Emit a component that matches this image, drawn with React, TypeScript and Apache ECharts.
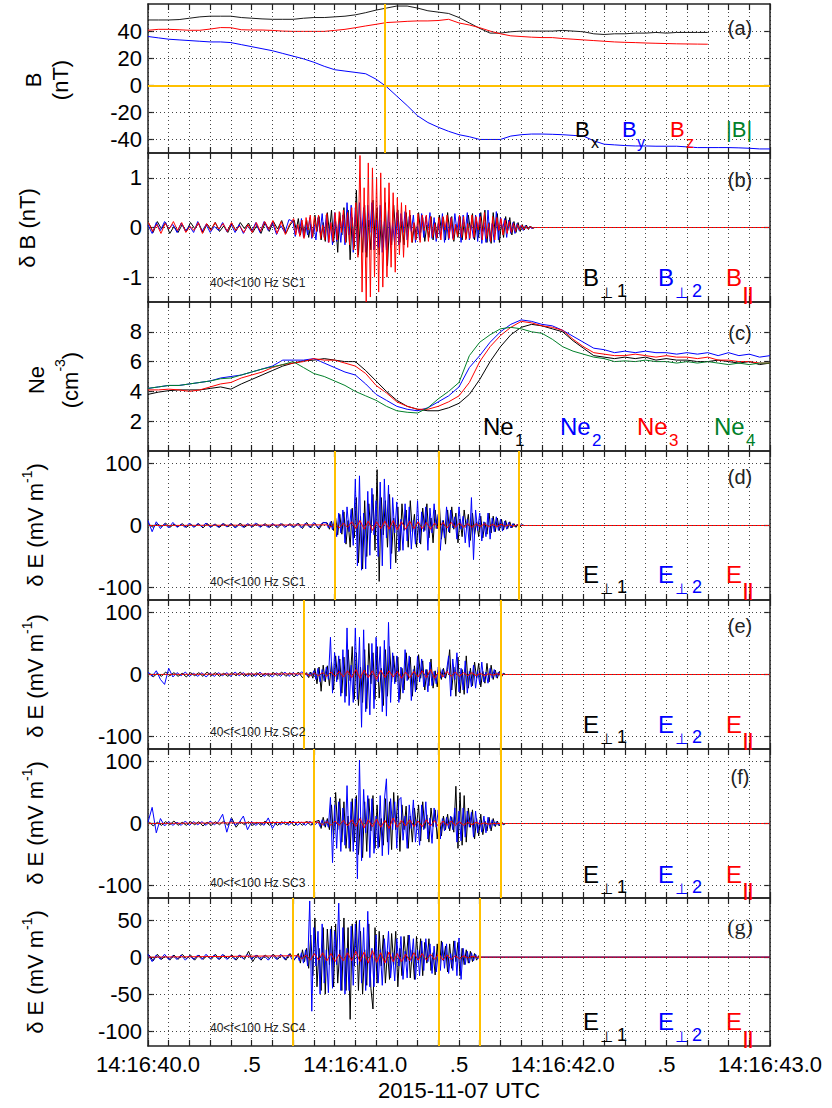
import React, { useEffect, useRef } from "react";
import * as echarts from "echarts";

const FONT = "'Liberation Sans', Arial, Helvetica, sans-serif";
const SYM_FONT = "'DejaVu Sans', 'Liberation Sans', sans-serif";

// ---------- time axis (seconds after 14:16:40.0 UTC) ----------
const xTickText: Record<number, string> = {
  0: "14:16:40.0", 5: ".5", 10: "14:16:41.0", 15: ".5", 20: "14:16:42.0", 25: ".5", 30: "14:16:43.0",
};
const xTitle = "2015-11-07 UTC";

// ---------- (a) B components, step 0.05 s ----------
const B_STEP = 0.05;
const Bx = [48.2, 48.2, 48.2, 48.5, 49.5, 50.5, 51, 51, 51, 50, 49.5, 49, 48.7, 48.7, 48.7, 49.5, 50, 50, 50.5, 51, 52, 53.6, 55.5, 57, 58.5, 58.5, 57, 55, 54, 53, 50, 46, 42, 38.5, 38.5, 39.5, 40, 40, 40, 40, 40.5, 40, 39.5, 38, 37.5, 38, 38, 38.5, 38.5, 39, 38.5, 39, 39, 39, 39];
const By = [36, 35, 34, 33.5, 33, 32.5, 32, 32, 31.5, 30, 28.5, 27, 25.5, 23.5, 21.5, 19.5, 17, 14, 11.5, 10.5, 9.5, 8.5, 4.5, -1, -8, -15, -22.5, -27.5, -31, -34, -36.5, -38, -40, -40, -40, -37.5, -36.5, -36, -36, -36.2, -36.5, -37, -37.5, -41, -43.5, -44, -44.5, -44.8, -44.8, -45, -45, -45, -45.5, -46, -46, -46, -46, -46.2, -46.5, -47, -47];
const Bz = [40.6, 41.3, 41.3, 41, 40.6, 40.6, 41.5, 42.6, 42.5, 41, 40.8, 40.8, 40.5, 40, 39.8, 39.8, 39.8, 39.8, 40.5, 41.3, 42.5, 43.8, 45, 46.3, 46.7, 47.2, 47.5, 47.5, 47.8, 48.7, 46, 44.5, 42.5, 40, 38, 36.5, 36, 35.5, 35.2, 35.2, 34.5, 34, 33.5, 33, 32.5, 32, 31.7, 31.5, 31.2, 31, 30.8, 30.6, 30.5, 30.4, 30.3];

// ---------- (b) delta B, SC1 ----------
const dB_PRE_STEP = 0.02;
const dB_ACT_START = 0.7;
const dB_ACT_STEP = 0.01;
// sampling phase offsets of the three components (s)
const PHASE_PERP1 = 0.005, PHASE_PERP2 = 0, PHASE_PAR = 0.0025;
const dBperp1Pre = [0.08, -0.1, 0.12, -0.03, 0.1, -0.12, 0.02, -0.1, 0.06, -0.08, 0.1, -0.02, 0.08, -0.1, 0.07, -0.04, 0.1, -0.08, 0.03, -0.1, 0.08, -0.07, 0.1, -0.02, 0.09, -0.1, 0.04, -0.12, 0.1, -0.08, 0.12, -0.03, 0.14, -0.12, 0.05, -0.14];
const dBperp2Pre = [0.05, -0.12, 0.1, -0.06, 0.12, -0.02, 0.06, -0.1, 0.09, -0.07, 0.03, -0.1, 0.12, -0.08, 0.06, -0.1, 0.02, -0.06, 0.1, -0.08, 0.07, -0.1, 0.06, -0.12, 0.03, -0.08, 0.1, -0.1, 0.12, -0.06, 0.1, -0.14, 0.04, -0.1, 0.16, -0.12];
const dBparPre = [0.1, -0.08, 0.06, -0.12, 0.08, -0.03, 0.12, -0.06, 0.1, -0.1, 0.02, -0.06, 0.1, -0.12, 0.08, -0.06, 0.1, -0.03, 0.08, -0.08, 0.1, -0.06, 0.03, -0.1, 0.06, -0.1, 0.1, -0.08, 0.12, -0.04, 0.14, -0.12, 0.12, -0.14, 0.06, -0.18];
const dBperp1 = [0.15, -0.05, 0.18, -0.15, 0.08, -0.18, 0.15, -0.2, 0.06, -0.18, 0.25, -0.08, 0.22, -0.25, 0.1, -0.28,
  0.3, -0.1, 0.35, -0.3, 0.12, -0.5, 0.3, -0.15, 0.4, -0.3,
  0.35, -0.65, 0.2, -0.4, 0.75,
  -0.55, 0.2, -0.5, 0.45, -0.6, 0.15, -0.45, 0.55,
  -0.2, 0.4, -0.55, 0.15, -0.4, 0.5, -0.77, 0.1, -0.35, 0.45, -0.12,
  0.35, -0.3, 0.12, -0.35, 0.3, -0.1,
  0.25, -0.3, 0.08, -0.22, 0.3, -0.1, 0.2, -0.28, 0.05, -0.2, 0.22, -0.25, 0.1, -0.2, 0.25, -0.06, 0.2, -0.25, 0.3, -0.08, 0.22, -0.28, 0.06, -0.2, 0.22, -0.25, 0.1, -0.22, 0.25, -0.05, 0.28, -0.25, 0.12, -0.2,
  0.3, -0.08, 0.35, -0.3, 0.1, -0.32, 0.3, -0.12, 0.28, -0.3, 0.08, -0.2, 0.22, -0.06, 0.2, -0.15,
  0.12, -0.1, 0.1, -0.08, 0.06, -0.05, 0.05, -0.04, 0.03, -0.02, 0];
const dBperp2 = [0.12, -0.18, 0.05, -0.12, 0.18, -0.2, 0.08, -0.15, 0.2, -0.22, 0.06, -0.25, 0.2, -0.1, 0.28, -0.2,
  0.25, -0.3, 0.1, -0.35, 0.3, -0.28, 0.12, -0.3, 0.25, -0.35,
  0.5, -0.15, 0.45, -0.5, 0.4,
  -0.45, 0.5, -0.2, 0.4, -0.5, 0.45, -0.1, 0.5,
  -0.45, 0.15, -0.4, 0.45, -0.5, 0.12, -0.45, 0.35, -0.4, 0.1, -0.35,
  0.3, -0.35, 0.28, -0.1, 0.32, -0.25,
  0.22, -0.08, 0.25, -0.3, 0.06, -0.25, 0.28, -0.2, 0.22, -0.05, 0.3, -0.22, 0.2, -0.28, 0.08, -0.2, 0.28, -0.3, 0.1, -0.25, 0.2, -0.22, 0.28, -0.06, 0.22, -0.3, 0.25, -0.1, 0.3, -0.25, 0.05, -0.22, 0.25, -0.28,
  0.28, -0.32, 0.1, -0.3, 0.35, -0.28, 0.08, -0.3, 0.32, -0.25, 0.2, -0.05, 0.18, -0.2, 0.15, -0.12,
  0.1, -0.12, 0.08, -0.06, 0.05, -0.06, 0.04, -0.03, 0.02, -0.02, 0];
const dBpar = [0.18, -0.15, 0.06, -0.18, 0.15, -0.22, 0.2, -0.05, 0.25, -0.2, 0.22, -0.08, 0.25, -0.22, 0.05, -0.25,
  0.28, -0.3, 0.1, -0.28, 0.3, -0.25, 0.32, -0.1, 0.35, -0.3,
  0.3, -0.35, 0.4, -0.45, 0.5,
  -0.6, 1.45, -1.3, 0.8, -1.5, 1.3, -1.4, 1.2,
  -1.0, 1.0, -1.3, 1.1, -1.2, 0.8, -1.0, 0.9, -0.8, 0.7, -0.9,
  0.6, -0.55, 0.5, -0.6, 0.45, -0.4,
  0.35, -0.3, 0.1, -0.25, 0.28, -0.3, 0.25, -0.06, 0.25, -0.28, 0.22, -0.2, 0.08, -0.22, 0.2, -0.25, 0.22, -0.05, 0.25, -0.22, 0.2, -0.25, 0.06, -0.18, 0.25, -0.2, 0.22, -0.25, 0.08, -0.22, 0.25, -0.2, 0.22, -0.05,
  0.22, -0.25, 0.3, -0.22, 0.08, -0.28, 0.22, -0.25, 0.2, -0.06, 0.18, -0.15, 0.15, -0.12, 0.12, -0.1,
  0.08, -0.08, 0.06, -0.05, 0.05, -0.04, 0.03, -0.03, 0.02, -0.01, 0];

// ---------- (c) electron density, step 0.05 s ----------
const NE_STEP = 0.05;
const Ne1 = [3.8, 3.95, 4.05, 4.1, 4.1, 4.1, 4.2, 4.3, 4.15, 4.5, 4.8, 5.1, 5.4, 5.7, 5.9, 6.05, 6.1, 6.2, 6.1, 6.0, 6.0, 5.4, 4.7, 4.0, 3.4, 3.0, 2.8, 2.7, 2.7, 2.9, 3.2, 3.8, 4.8, 6.0, 7.0, 7.8, 8.3, 8.5, 8.4, 8.2, 8.0, 7.4, 6.9, 6.4, 6.3, 6.2, 6.3, 6.2, 6.3, 6.1, 6.2, 6.1, 6.1, 6.0, 6.0, 6.1, 6.0, 5.9, 6.0, 5.8, 5.9];
const Ne2 = [4.2, 4.3, 4.4, 4.4, 4.5, 4.6, 4.7, 4.9, 5.0, 5.1, 5.3, 5.5, 5.7, 6.1, 6.1, 6.1, 6.2, 5.9, 5.6, 5.3, 5.1, 4.5, 3.8, 3.4, 3.0, 2.8, 2.7, 2.9, 3.3, 3.7, 4.3, 5.6, 6.4, 7.3, 8.0, 8.5, 8.8, 8.7, 8.5, 8.4, 8.1, 7.7, 7.3, 6.9, 6.8, 6.6, 6.7, 6.6, 6.7, 6.6, 6.6, 6.5, 6.6, 6.5, 6.6, 6.4, 6.6, 6.4, 6.5, 6.3, 6.4];
const Ne3 = [4.1, 4.1, 4.15, 4.1, 4.0, 4.1, 4.3, 4.5, 4.6, 4.9, 5.1, 5.3, 5.6, 5.8, 5.9, 6.0, 6.2, 6.1, 6.1, 5.9, 5.7, 5.2, 4.4, 3.9, 3.3, 3.0, 2.8, 2.8, 3.0, 3.3, 3.7, 4.6, 6.0, 7.0, 7.75, 8.3, 8.7, 8.6, 8.4, 8.3, 8.1, 7.5, 7.0, 6.6, 6.5, 6.4, 6.4, 6.5, 6.4, 6.3, 6.4, 6.3, 6.3, 6.2, 6.3, 6.1, 6.1, 6.0, 6.0, 5.9, 5.9];
const Ne4 = [4.2, 4.3, 4.4, 4.4, 4.5, 4.6, 4.7, 4.85, 4.9, 5.1, 5.3, 5.5, 5.65, 5.8, 6.0, 5.6, 5.2, 5.0, 4.7, 4.4, 4.0, 3.7, 3.4, 3.0, 2.7, 2.6, 2.55, 2.9, 3.5, 4.0, 4.6, 6.4, 7.3, 7.8, 8.2, 8.3, 8.2, 8.0, 7.9, 7.5, 7.0, 6.7, 6.5, 6.3, 6.2, 6.0, 6.05, 6.0, 6.1, 6.0, 6.0, 5.9, 6.0, 5.9, 6.0, 5.9, 5.8, 5.9, 5.8, 5.9, 5.9];

// ---------- (d)-(g) delta E ----------
const E_PRE_STEP = 0.02;
const E_ACT_STEP = 0.01;
const E_RED_STEP = 0.02;

// SC1 (d)
const dE1_START = 0.86;
const dE1perp1Pre = [2, -3, 3, -2, 4, -3, 2, -2, 3, -3, 2, -2, 3, -4, 3, -2, 2, -3, 3, -2, 2, -3, 4, -3, 2, -2, 3, -2, 3, -3, 2, -4, 3, -2, 3, -3, 4, -5, 5, -4, 4, -6, 5];
const dE1perp2Pre = [8, -10, 6, -5, 3, -4, 5, -3, 2, -3, 4, -3, 3, -2, 4, -3, 2, -3, 3, -2, 3, -4, 2, -3, 3, -2, 4, -3, 2, -3, 3, -2, 3, -3, 2, -3, 3, -4, 4, -3, 5, -4, 4];
const dE1perp1 = [4, -6, 7, -8, 12, -15, 18, -14, 22, -30, 8, -35, 28, -20, 45, -60, 15, -70, 40, -50, 35, -12, 50, -40, 90, -90, 45, -15, 40, -35, 50, -45, 12, -60, 30, -40, 35, -8, 25, -35, 40, -10, 18, -35, 6, -30, 28, -8, 35, -20, 12, -28, 25, -5, 35, -22, 8, -30, 25, -12, 30, -6, 20, -28, 10, -18, 25, -4, 18, -24, 20, -15, 6, -18, 15, -20, 5, -14, 20, -12, 15, -10, 12, -8, 10, -7, 8, -5, 6, -4, 3, -3, 2, -2, 1, 0];
const dE1perp2 = [5, -4, 6, -7, 10, -18, 20, -12, 25, -28, 30, -10, 26, -32, 75, -65, 80, -72, 20, -70, 55, -48, 60, -15, 40, -50, 70, -65, 75, -20, 65, -70, 45, -12, 38, -42, 10, -40, 35, -25, 30, -38, 8, -30, 40, -28, 22, -10, 30, -40, 28, -12, 35, -5, 18, -40, 8, -20, 30, -10, 25, -4, 14, -22, 30, -6, 15, -28, 10, -35, 45, -55, 25, -8, 20, -25, 6, -18, 20, -22, 12, -10, 14, -8, 10, -9, 7, -6, 5, -4, 3, -2, 2, -1, 1, 0];
const dE1par = [1, -2, 3, -4, 4, -3, 6, -5, 8, -6, 7, -8, 6, -5, 7, -6, 8, -7, 6, -6, 7, -5, 6, -5, 5, -6, 4, -5, 5, -4, 5, -3, 4, -3, 3, -3, 3, -2, 3, -2, 2, -2, 2, -1, 1, -1, 1, 0];

// SC2 (e)
const dE2_START = 0.76;
const dE2perp1Pre = [3, -4, 2, -3, 4, -2, 3, -3, 2, -4, 3, -2, 3, -3, 4, -2, 3, -3, 2, -3, 3, -2, 4, -3, 2, -3, 3, -4, 2, -3, 3, -2, 4, -3, 3, -4, 4, -5];
const dE2perp2Pre = [4, -3, 6, -8, -16, 10, -4, 3, -2, 4, -3, 2, -3, 3, -4, 2, -3, 3, -2, 3, -3, 4, -2, 3, -3, 2, -3, 4, -3, 2, -4, 3, -3, 4, -3, 3, -2, 4];
const dE2perp1 = [3, -5, 4, -6, 10, -15, 12, -27, 15, -12, 14, -18, 20, -25, 30, -8, 25, -30, 28, -35, 40, -10, 45, -40, 35, -50, 12, -45, 40, -55, 50, -15, 35, -40, 45, -38, 10, -50, 40, -35, 45, -12, 30, -12, 28, -40, 10, -25, 35, -8, 28, -35, 14, -25, 32, -6, 22, -25, 8, -18, 25, -22, 6, -20, 15, -8, 10, -6, 8, 40, -25, 12, -35, 28, -30, 8, -32, 30, -22, 10, -18, 20, -6, 18, -20, 5, -14, 18, -12, 15, -8, 7, -6, 5, -4, 2, 0];
const dE2perp2 = [2, -3, 3, -2, 6, -8, 10, -12, 8, -10, 12, -8, 60, -30, 35, -12, 30, -35, 40, -45, 75, -50, 15, -45, 75, -40, 60, -85, 72, -60, 15, -65, 50, -55, 60, -12, 45, -60, 55, -67, 84, -45, 35, -15, 30, -45, 12, -30, 40, -10, 30, -42, 8, -28, 30, -12, 25, -20, 8, -28, 20, -18, 5, -15, 12, -6, 8, -5, 6, 30, -35, 25, -8, 35, -28, 10, -25, 22, -30, 5, -20, 15, -22, 6, -15, 20, -12, 4, -14, 10, -6, 8, -5, 4, -3, 1, 0];
const dE2par = [1, -2, 2, -2, 3, -3, 4, -3, 5, -4, 6, -5, 8, -6, 7, -5, 6, -8, 7, -5, 6, -4, 5, -6, 4, -5, 5, -4, 6, -5, 8, -6, 5, -4, 5, -3, 4, -3, 3, -2, 3, -2, 2, -2, 1, -1, 1, 0, 0];

// SC3 (f)
const dE3_START = 0.82;
const dE3perp1Pre = [3, -4, 2, -3, 3, -2, 4, -3, 2, -3, 3, -2, 3, -4, 2, -3, 3, -2, 4, -3, 8, -6, 3, -2, 3, -3, 2, -3, 4, -3, 2, -3, 3, -2, 4, -4, 3, -3, 4, -3, 3];
const dE3perp2Pre = [2, 26, -15, 8, -4, 3, -3, 2, -3, 4, -3, 3, -2, 3, -3, 4, -2, 3, 15, -14, 8, -3, 2, 12, -10, 3, -3, 2, -3, 9, -8, 3, -2, 3, -3, 4, -3, 2, -3, 4, -4];
const dE3perp1 = [5, -8, 10, -6, 8, -10, 30, -25, 50, -10, 40, -30, 35, -40, 12, -45, 40, -30, 45, -50, 10, -55, 35, -45, 40, -12, 45, -40, 30, -38, 8, -35, 40, -30, 35, -42, 50, -10, 45, -45, 30, -10, 28, -40, 12, -30, 25, -6, 30, -28, 35, -8, 14, -30, 25, -5, 22, -25, 10, -20, 12, -10, 15, -12, 10, -14, 60, -40, 50, -35, 45, -30, 25, -6, 22, -25, 8, -20, 15, -18, 4, -12, 10, -12, 8, -5, 4, -4, 3, -2, 0];
const dE3perp2 = [3, -5, 6, -4, 5, -6, 42, -63, 30, -40, 35, -45, 25, -35, 61, -40, 35, -45, 40, -89, 102, -60, 55, -15, 45, -55, 40, -48, 12, -40, 45, -52, 38, 72, -50, 40, -10, 35, -40, 38, 42, -27, 12, -40, 30, -8, 38, -30, 6, -35, 30, -10, 35, -25, 9, -32, 25, -6, 22, -25, 8, -12, 10, -8, 12, -10, 25, -30, 20, -28, 25, -22, 20, -6, 18, -22, 20, -15, 5, -14, 12, -15, 10, -8, 6, -4, 3, -3, 2, -1, 0];
const dE3par = [2, -2, 3, -3, 4, -3, 5, -4, 6, -5, 8, -7, 6, -5, 7, -6, 5, -8, 9, -6, 5, -4, 6, -5, 4, -5, 6, -4, 5, -6, 4, -3, 4, -3, 3, -3, 2, -2, 2, -1, 1, -1, 0, 0, 0, 0];

// SC4 (g)
const dE4_START = 0.72;
const dE4perp1Pre = [3, -5, 4, -3, 2, -4, 3, -3, 4, -2, 3, -4, 3, -3, 2, -3, 4, -3, 3, -2, 3, -4, 3, -3, 8, -6, 3, -4, 3, -2, 4, -3, 3, -4, 5, -4];
const dE4perp2Pre = [4, -6, 3, -3, 4, -3, 2, -3, 3, -4, 2, -3, 3, -3, 4, -2, 3, -3, 4, -3, 2, -3, 3, -2, 4, -3, 3, -3, 2, -4, 3, -3, 4, -3, 4, -5];
const dE4perp1 = [5, -8, 10, -6, 12, -15, 30, -25, 53, -40, 12, -45, 40, -50, 38, -10, 42, -40, 45, -35, 10, -45, 53, -45, 40, -84, 45, -12, 50, -45, 35, -50, 10, -38, 45, -42, -70, 40, -35, 35, -12, 30, -35, 8, -30, 32, -10, 35, -40, 12, -25, 28, -6, 30, -28, 10, -30, 28, -8, 25, -25, 20, -8, 25, -18, 6, -24, 18, -20, 22, -5, 15, -20, 18, -15, 22, -6, 20, -25, 12, -10, 10, -8, 8, -6, 5, -4, 2, 0];
const dE4perp2 = [3, -5, 6, -8, 10, -12, 76, -73, 40, -12, 35, -50, 45, -35, 10, -48, 38, -42, 35, -10, 73, -45, 40, -50, 12, -45, 42, -38, 45, -10, 50, -35, 40, -45, 62, -40, 12, -40, 30, -35, 10, -38, 25, -8, 35, -28, 6, -32, 25, -12, 28, -30, 8, -28, 30, -6, 25, -30, 10, -25, 22, -18, 25, -6, 18, -22, 15, -20, 6, -18, 20, -15, 18, -22, 5, -18, 22, -25, 26, -30, 12, -10, 8, -8, 6, -5, 4, -2, 0];
const dE4par = [2, -2, 3, -4, 5, -4, 6, -5, 5, -6, 4, -5, 6, -5, 8, -6, 7, -8, 9, -7, 6, -8, 7, -6, 5, -6, 4, -5, 6, -4, 5, -4, 4, -3, 5, -4, 3, -3, 2, -2, 2, -1, 1, 0, 0];

// ---------- axis tick values ----------
const yTicksA = [-40, -20, 0, 20, 40];
const yTicksB = [-1, 0, 1];
const yTicksC = [2, 4, 6, 8];
const yTicksE = [-100, 0, 100];
const yTicksG = [-100, -50, 0, 50];

// ---------- reference times (yellow markers) ----------
const markA = [1.135];
const markD = [0.9, 1.4, 1.795];
const markE = [0.75, 1.4, 1.7];
const markF = [0.8, 1.4, 1.7];
const markG = [0.7, 1.4, 1.6];

// ---------- layout ----------
const LEFT = 148, RIGHT = 62;
const panels = [
  { top: 4, height: 149, min: -50, max: 60, interval: 10, ticks: yTicksA, marks: markA },
  { top: 153, height: 149, min: -1.5, max: 1.5, interval: 0.5, ticks: yTicksB, marks: [] as number[] },
  { top: 302, height: 149, min: 0, max: 10, interval: 2, ticks: yTicksC, marks: [] as number[] },
  { top: 451, height: 149, min: -120, max: 120, interval: 20, ticks: yTicksE, marks: markD },
  { top: 600, height: 149, min: -120, max: 120, interval: 20, ticks: yTicksE, marks: markE },
  { top: 749, height: 149, min: -120, max: 120, interval: 20, ticks: yTicksE, marks: markF },
  { top: 898, height: 148, min: -120, max: 80, interval: 10, ticks: yTicksG, marks: markG },
];

const BLACK = "#000000", BLUE = "#0000ff", RED = "#ff0000", GREEN = "#00802a", YEL = "#ffc000";

const seg = (t0: number, dt: number, vals: number[]) =>
  vals.map((v, i) => [Math.round((t0 + i * dt) * 10000) / 10000, v]);
const wave = (pre: number[], preStep: number, start: number, act: number[], actStep: number, phase: number) => [
  ...seg(phase, preStep, pre).filter((p) => p[0] < start + phase - 1e-6),
  ...seg(start + phase, actStep, act),
  [3, 0],
];

function buildOption() {
  const grid = panels.map((p) => ({ left: LEFT, right: RIGHT, top: p.top, height: p.height }));
  const axisLine = { show: true, onZero: false, lineStyle: { color: "#222", width: 1.5 } };
  const xTick = { show: true, inside: true, length: 6, lineStyle: { color: "#222", width: 1.2 } };
  const xAxis: any[] = [];
  const yAxis: any[] = [];
  panels.forEach((p, i) => {
    const last = i === panels.length - 1;
    xAxis.push({
      type: "value", gridIndex: i, min: 0, max: 3, interval: 0.1, position: "bottom",
      axisLine, axisTick: xTick,
      axisLabel: {
        show: last, fontSize: 22, color: "#000", fontFamily: FONT, margin: 7, hideOverlap: false,
        showMinLabel: true, showMaxLabel: true,
        formatter: (v: number) => xTickText[Math.round(v * 10)] ?? "",
      },
      splitLine: { show: true, lineStyle: { color: "#444", type: [1, 3], width: 1 } },
    });
    xAxis.push({
      type: "value", gridIndex: i, min: 0, max: 3, interval: 0.1, position: "top",
      axisLine, axisTick: xTick, axisLabel: { show: false }, splitLine: { show: false },
    });
    const yTick = { show: true, inside: true, length: 6, customValues: p.ticks, lineStyle: { color: "#222", width: 1.2 } };
    yAxis.push({
      type: "value", gridIndex: i, min: p.min, max: p.max, interval: p.interval, position: "left",
      axisLine, axisTick: yTick,
      axisLabel: {
        customValues: p.ticks, fontSize: 22, color: "#000", fontFamily: FONT, margin: 6, hideOverlap: false,
        formatter: (v: number) => (p.ticks.some((t) => Math.abs(t - v) < 1e-6) ? String(Math.round(v * 10) / 10) : ""),
      },
      splitLine: { show: false },
    });
    yAxis.push({
      type: "value", gridIndex: i, min: p.min, max: p.max, interval: p.interval, position: "right",
      axisLine, axisTick: yTick, axisLabel: { show: false }, splitLine: { show: false },
    });
  });

  const series: any[] = [];
  const line = (i: number, data: any[], color: string, z = 2) => ({
    type: "line", xAxisIndex: 2 * i, yAxisIndex: 2 * i, data, showSymbol: false, symbol: "none",
    lineStyle: { width: 1, color }, itemStyle: { color }, z, silent: true, animation: false, clip: true,
  });

  // grid lines (dotted, horizontal) underneath
  panels.forEach((p, i) => {
    series.push({
      ...line(i, [[0, p.min], [3, p.min]], "rgba(0,0,0,0)", 1),
      lineStyle: { opacity: 0 },
      markLine: {
        silent: true, symbol: ["none", "none"], label: { show: false }, animation: false,
        lineStyle: { color: "#444", type: [1, 3], width: 1 },
        data: p.ticks.map((t) => ({ yAxis: t })),
      },
    });
  });

  // (a)
  series.push(line(0, seg(0, B_STEP, Bx), "#1a1a1a"));
  series.push(line(0, seg(0, B_STEP, By), BLUE));
  series.push(line(0, seg(0, B_STEP, Bz), RED));
  // (b)
  series.push(line(1, wave(dBperp1Pre, dB_PRE_STEP, dB_ACT_START, dBperp1, dB_ACT_STEP, PHASE_PERP1), BLACK));
  series.push(line(1, wave(dBperp2Pre, dB_PRE_STEP, dB_ACT_START, dBperp2, dB_ACT_STEP, PHASE_PERP2), BLUE));
  series.push(line(1, wave(dBparPre, dB_PRE_STEP, dB_ACT_START, dBpar, dB_ACT_STEP, PHASE_PAR), RED));
  // (c)
  series.push(line(2, seg(0, NE_STEP, Ne1), BLACK));
  series.push(line(2, seg(0, NE_STEP, Ne2), BLUE));
  series.push(line(2, seg(0, NE_STEP, Ne3), RED));
  series.push(line(2, seg(0, NE_STEP, Ne4), GREEN));
  // (d)-(g)
  const eSets = [
    [dE1perp1Pre, dE1perp2Pre, dE1_START, dE1perp1, dE1perp2, dE1par],
    [dE2perp1Pre, dE2perp2Pre, dE2_START, dE2perp1, dE2perp2, dE2par],
    [dE3perp1Pre, dE3perp2Pre, dE3_START, dE3perp1, dE3perp2, dE3par],
    [dE4perp1Pre, dE4perp2Pre, dE4_START, dE4perp1, dE4perp2, dE4par],
  ] as any[];
  eSets.forEach((s, k) => {
    const i = 3 + k;
    series.push(line(i, wave(s[0], E_PRE_STEP, s[2], s[3], E_ACT_STEP, PHASE_PERP1), BLACK));
    series.push(line(i, wave(s[1], E_PRE_STEP, s[2], s[4], E_ACT_STEP, PHASE_PERP2), BLUE));
    series.push(line(i, wave([0], E_PRE_STEP, s[2], s[5], E_RED_STEP, PHASE_PAR), RED));
  });

  // yellow markers on top
  panels.forEach((p, i) => {
    const data: any[] = p.marks.map((t) => ({ xAxis: t }));
    if (i === 0) data.push({ yAxis: 0 });
    if (!data.length) return;
    series.push({
      ...line(i, [[0, p.min], [3, p.min]], "rgba(0,0,0,0)", 6),
      lineStyle: { opacity: 0 },
      markLine: {
        silent: true, symbol: ["none", "none"], label: { show: false }, animation: false,
        lineStyle: { color: YEL, type: "solid", width: 2 },
        data,
      },
    });
  });

  // ---------- texts ----------
  const g: any[] = [];
  const txt = (x: number, y: number, text: string, size: number, fill: string, extra: any = {}) => ({
    type: "text", x, y, silent: true, z: 100,
    style: { text, fontSize: size, fontFamily: FONT, fill, align: "left", verticalAlign: "middle", ...extra },
  });
  const vtxt = (x: number, y: number, text: string, lineHeight: number, rich?: any) => ({
    type: "text", x, y, rotation: Math.PI / 2, silent: true, z: 100,
    style: { text, fontSize: 22, fontFamily: FONT, fill: "#000", align: "center", verticalAlign: "middle", lineHeight, rich },
  });
  const supRich = (lh: number) => ({
    a: { fontSize: 22, fontFamily: FONT, fill: "#000", lineHeight: lh },
    s: { fontSize: 14, fontFamily: FONT, fill: "#000", lineHeight: 14, verticalAlign: "top" },
  });
  g.push(vtxt(46.5, 80, "B\n(nT)", 27));
  g.push(vtxt(27.5, 228, "δ B (nT)", 28));
  g.push(vtxt(53, 380, "{a|Ne}\n{a|(cm}{s|-3}{a|)}", 34, supRich(34)));
  const eName = "{a|δ E (mV m}{s|-1}{a|)}";
  g.push(vtxt(35, 525, eName, 30, supRich(30)));
  g.push(vtxt(35, 676, eName, 30, supRich(30)));
  g.push(vtxt(35, 823, eName, 30, supRich(30)));
  g.push(vtxt(35, 972, eName, 30, supRich(30)));

  // panel letters
  const letters = ["(a)", "(b)", "(c)", "(d)", "(e)", "(f)", "(g)"];
  const letterY = [28, 180, 333, 477, 626, 777, 926];
  letters.forEach((l, i) =>
    g.push(txt(740, letterY[i], l, 20, "#222", { align: "center", fontFamily: i === 6 ? "'Liberation Serif', 'Times New Roman', serif" : FONT, fontSize: i === 6 ? 22 : 20 }))
  );

  // band annotations
  const bandY = [283, 582, 732, 883, 1028];
  const bandTxt = ["40<f<100 Hz SC1", "40<f<100 Hz SC1", "40<f<100 Hz SC2", "40<f<100 Hz SC3", "40<f<100 Hz SC4"];
  bandY.forEach((y, k) => g.push(txt(210, y, bandTxt[k], 12, "#222")));

  // legend (a)
  g.push(txt(575, 129.5, "B", 22, BLACK)); g.push(txt(591, 142, "x", 16, BLACK));
  g.push(txt(622, 129.5, "B", 22, BLUE)); g.push(txt(637, 142, "y", 16, BLUE));
  g.push(txt(670, 129.5, "B", 22, RED)); g.push(txt(686, 142, "z", 16, RED));
  g.push(txt(726, 129.5, "|B|", 22, GREEN));

  // legend (b), (d)-(g)
  const perpLegend = (letter: string, yc: number) => {
    g.push(txt(583, yc, letter, 24, BLACK));
    g.push(txt(600, yc + 15, "⊥", 15, BLACK, { fontFamily: SYM_FONT }));
    g.push(txt(617, yc + 13, "1", 18, BLACK));
    g.push(txt(658, yc, letter, 24, BLUE));
    g.push(txt(675, yc + 15, "⊥", 15, BLUE, { fontFamily: SYM_FONT }));
    g.push(txt(692, yc + 13, "2", 18, BLUE));
    g.push(txt(726, yc, letter, 24, RED));
    g.push(txt(743, yc + 16, "||", 18, RED, { fontWeight: "bold" }));
  };
  perpLegend("B", 277.5);
  perpLegend("E", 574);
  perpLegend("E", 724);
  perpLegend("E", 874);
  perpLegend("E", 1021.5);

  // legend (c)
  const neCols = [BLACK, BLUE, RED, GREEN];
  const neX = [483, 560, 637, 714];
  neCols.forEach((c, k) => {
    g.push(txt(neX[k], 426, "Ne", 24, c));
    g.push(txt(neX[k] + 32, 440, String(k + 1), 17, c));
  });

  // x title
  g.push(txt(459, 1090, xTitle, 22, "#000", { align: "center" }));

  return {
    animation: false,
    backgroundColor: "#ffffff",
    grid, xAxis, yAxis, series, graphic: g,
  };
}

export default function App() {
  const ref = useRef<HTMLDivElement>(null);
  useEffect(() => {
    if (!ref.current) return;
    const chart = echarts.init(ref.current, undefined, { renderer: "svg" });
    chart.setOption(buildOption() as any);
    return () => chart.dispose();
  }, []);
  return <div ref={ref} style={{ position: "absolute", left: 0, top: 0, width: 832, height: 1108, background: "#fff" }} />;
}
